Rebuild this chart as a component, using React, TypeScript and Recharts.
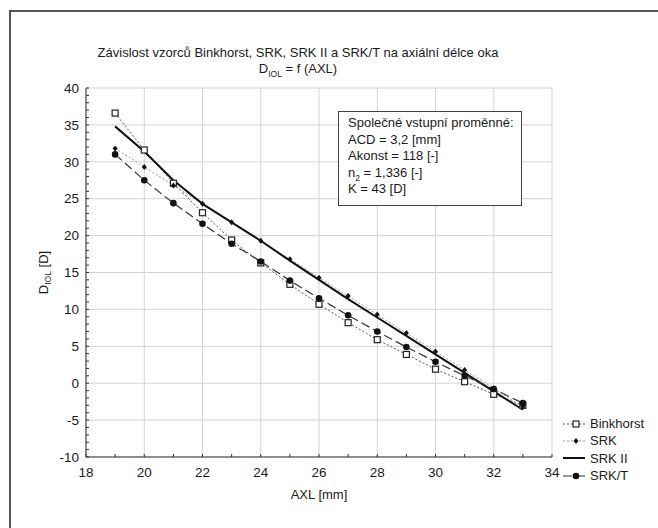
import React from 'react';
import { LineChart, Line, XAxis, YAxis, CartesianGrid } from 'recharts';

// axial length [mm]
const axl = [19, 20, 21, 22, 23, 24, 25, 26, 27, 28, 29, 30, 31, 32, 33];
// D_IOL [D] per formula
const binkhorst = [36.6, 31.6, 27.1, 23.1, 19.4, 16.3, 13.4, 10.7, 8.2, 5.9, 3.9, 1.9, 0.2, -1.5, -3.0];
const srk = [31.8, 29.3, 26.8, 24.3, 21.8, 19.3, 16.8, 14.3, 11.8, 9.3, 6.8, 4.3, 1.8, -0.7, -3.2];
const srkII = [34.8, 31.4, 27.5, 24.3, 21.8, 19.3, 16.6, 14.0, 11.4, 8.9, 6.4, 3.9, 1.4, -1.1, -3.6];
const srkT = [31.0, 27.5, 24.4, 21.6, 18.9, 16.5, 13.9, 11.5, 9.2, 7.0, 4.9, 2.9, 1.0, -0.8, -2.7];

const xMajor = [18, 20, 22, 24, 26, 28, 30, 32, 34];
const yMajor = [-10, -5, 0, 5, 10, 15, 20, 25, 30, 35, 40];
const xMinor = Array.from({ length: 17 }, (_, i) => 18 + i);
const yMinor = Array.from({ length: 51 }, (_, i) => -10 + i);

const boxLines = ['Společné vstupní proměnné:', 'ACD = 3,2 [mm]', 'Akonst = 118 [-]', 'n2 = 1,336 [-]', 'K = 43 [D]'];

const data = axl.map((x, i) => ({
  axl: x,
  binkhorst: binkhorst[i],
  srk: srk[i],
  srkII: srkII[i],
  srkT: srkT[i],
}));

const FONT = '"Liberation Sans", Arial, sans-serif';
const INK = '#1a1a1a';

const SquareDot = (p: any) => (
  <rect key={p.key} x={p.cx - 3} y={p.cy - 3} width={6} height={6} fill="#fff" stroke="#222" strokeWidth={1.2} />
);
const DiamondDot = (p: any) => (
  <path key={p.key} d={`M${p.cx},${p.cy - 3}L${p.cx + 2.5},${p.cy}L${p.cx},${p.cy + 3}L${p.cx - 2.5},${p.cy}Z`} fill="#111" />
);
const CircleDot = (p: any) => <circle key={p.key} cx={p.cx} cy={p.cy} r={3.3} fill="#111" />;

const YLabel = ({ viewBox }: any) => {
  const x = viewBox.x + 22;
  const y = viewBox.y + viewBox.height / 2;
  return (
    <text x={x} y={y} transform={`rotate(-90 ${x} ${y})`} textAnchor="middle" fontSize={13} fill={INK} fontFamily={FONT}>
      D<tspan fontSize={8.5} dy={3}>IOL</tspan>
      <tspan dy={-3}> [D]</tspan>
    </text>
  );
};

const series = [
  { name: 'Binkhorst', stroke: '#555', dash: '2 2', width: 1, marker: 'square' },
  { name: 'SRK', stroke: '#999', dash: '2 2', width: 1, marker: 'diamond' },
  { name: 'SRK II', stroke: '#111', dash: undefined, width: 2, marker: 'none' },
  { name: 'SRK/T', stroke: '#333', dash: '9 4', width: 1.2, marker: 'circle' },
];

const LegendMark = ({ s }: any) => (
  <svg width={24} height={10} style={{ display: 'block' }}>
    <line x1={1} y1={5} x2={23} y2={5} stroke={s.stroke} strokeWidth={s.width} strokeDasharray={s.dash} />
    {s.marker === 'square' && <rect x={11} y={2} width={6} height={6} fill="#fff" stroke="#222" strokeWidth={1.2} />}
    {s.marker === 'diamond' && <path d="M14,2L16.5,5L14,8L11.5,5Z" fill="#111" />}
    {s.marker === 'circle' && <circle cx={14} cy={5} r={3.3} fill="#111" />}
  </svg>
);

export default function App() {
  return (
    <div style={{ position: 'absolute', left: 0, top: 0, width: 658, height: 528, background: '#fff', fontFamily: FONT, color: INK, overflow: 'hidden' }}>
      <div style={{ position: 'absolute', left: 9, top: 10, width: 700, height: 600, borderLeft: '2px solid #555', borderTop: '2px solid #555' }} />

      <div style={{ position: 'absolute', left: 78, width: 440, top: 45, textAlign: 'center', fontSize: 13, lineHeight: '16px' }}>
        <div>Závislost vzorců Binkhorst, SRK, SRK II a SRK/T na axiální délce oka</div>
        <div>
          D<sub style={{ fontSize: 8.5 }}>IOL</sub> = f (AXL)
        </div>
      </div>

      <LineChart width={658} height={528} data={data} margin={{ top: 88, right: 106, bottom: 29, left: 26 }}>
        <CartesianGrid stroke="#d4d4d4" verticalValues={xMajor} horizontalValues={yMajor} />
        <XAxis
          dataKey="axl"
          type="number"
          domain={[18, 34]}
          ticks={xMinor}
          interval={0}
          tickFormatter={(v: number) => (xMajor.includes(v) ? String(v) : '')}
          tickSize={-3}
          tickMargin={13}
          height={42}
          stroke="#333"
          tick={{ fill: INK, fontSize: 13.5, fontFamily: FONT }}
          label={{ value: 'AXL [mm]', position: 'insideBottom', offset: 0, fill: INK, fontSize: 13, fontFamily: FONT }}
        />
        <XAxis xAxisId="top" orientation="top" type="number" domain={[18, 34]} ticks={xMinor} interval={0} tick={false} tickSize={-3} height={0} stroke="#333" />
        <YAxis
          type="number"
          domain={[-10, 40]}
          ticks={yMinor}
          interval={0}
          tickFormatter={(v: number) => (yMajor.includes(v) ? String(v) : '')}
          tickSize={-3}
          tickMargin={10}
          width={60}
          stroke="#333"
          tick={{ fill: INK, fontSize: 13.5, fontFamily: FONT }}
          label={<YLabel />}
        />
        <YAxis yAxisId="right" orientation="right" type="number" domain={[-10, 40]} ticks={yMinor} interval={0} tick={false} tickSize={-3} width={0} stroke="#333" />

        <Line dataKey="binkhorst" name="Binkhorst" stroke="#555" strokeDasharray="2 2" strokeWidth={1} dot={SquareDot} isAnimationActive={false} />
        <Line dataKey="srk" name="SRK" stroke="#999" strokeDasharray="2 2" strokeWidth={1} dot={DiamondDot} isAnimationActive={false} />
        <Line dataKey="srkII" name="SRK II" stroke="#111" strokeWidth={2} dot={false} isAnimationActive={false} />
        <Line dataKey="srkT" name="SRK/T" stroke="#333" strokeDasharray="9 4" strokeWidth={1.2} dot={CircleDot} isAnimationActive={false} />
      </LineChart>

      <div style={{ position: 'absolute', left: 338, top: 111, width: 184, height: 95, border: '1px solid #444', background: '#fff', fontSize: 13, lineHeight: '16.5px', padding: '3px 0 0 9px', boxSizing: 'border-box' }}>
        {boxLines.map((t, i) =>
          t.startsWith('n2') ? (
            <div key={i}>
              n<sub style={{ fontSize: 8.5, lineHeight: 0 }}>2</sub>
              {t.slice(2)}
            </div>
          ) : (
            <div key={i}>{t}</div>
          )
        )}
      </div>

      <div style={{ position: 'absolute', left: 562, top: 415, fontSize: 13, lineHeight: '17.3px' }}>
        {series.map((s) => (
          <div key={s.name} style={{ display: 'flex', alignItems: 'center', height: 17.3 }}>
            <LegendMark s={s} />
            <span style={{ marginLeft: 4 }}>{s.name}</span>
          </div>
        ))}
      </div>
    </div>
  );
}
